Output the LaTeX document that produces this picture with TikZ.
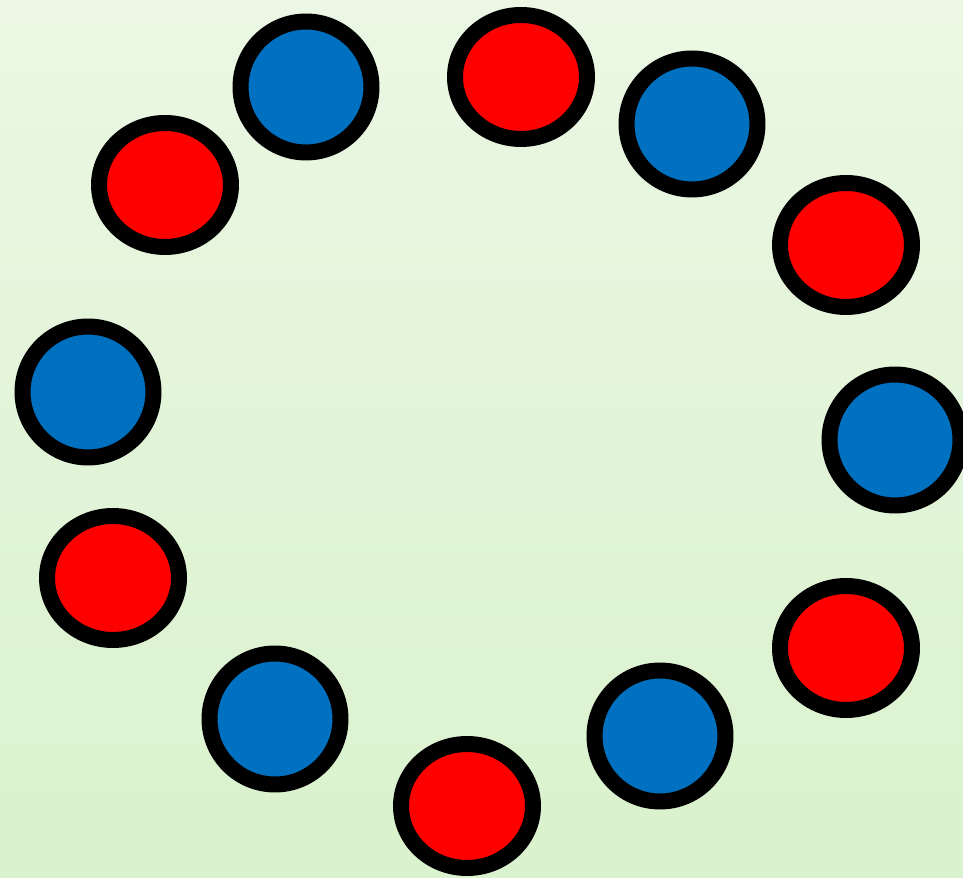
\documentclass[tikz,border=0pt]{standalone}
\usetikzlibrary{shapes.geometric}
\definecolor{ringred}{RGB}{255,0,0}
\definecolor{ringblue}{RGB}{0,112,192}
\definecolor{bgtop}{RGB}{235,247,228}
\definecolor{bgbottom}{RGB}{218,242,205}
\begin{document}
\begin{tikzpicture}[x=0.02cm,y=0.02cm,
  bead/.style={draw=black,line width=0.32cm,inner sep=0pt,outer sep=0pt},
  redbead/.style={bead,ellipse,fill=ringred,minimum width=2.64cm,minimum height=2.48cm},
  bluebead/.style={bead,circle,fill=ringblue,minimum size=2.62cm}]
\useasboundingbox (0,0) rectangle (963,878);
\clip (0,0) rectangle (963,878);
\shade[top color=bgtop,bottom color=bgbottom] (0,0) rectangle (963,878);
\node[bluebead] (b1) at (306,791) {};
\node[redbead] (r1) at (521,801) {};
\node[bluebead] (b2) at (692,754) {};
\node[redbead] (r2) at (846,633) {};
\node[bluebead] (b3) at (895,438) {};
\node[redbead] (r3) at (846,230) {};
\node[bluebead] (b4) at (660,142) {};
\node[redbead] (r4) at (467,72) {};
\node[bluebead] (b5) at (275,159) {};
\node[redbead] (r5) at (113,300) {};
\node[bluebead] (b6) at (88,486) {};
\node[redbead] (r6) at (165,693) {};
\end{tikzpicture}
\end{document}
